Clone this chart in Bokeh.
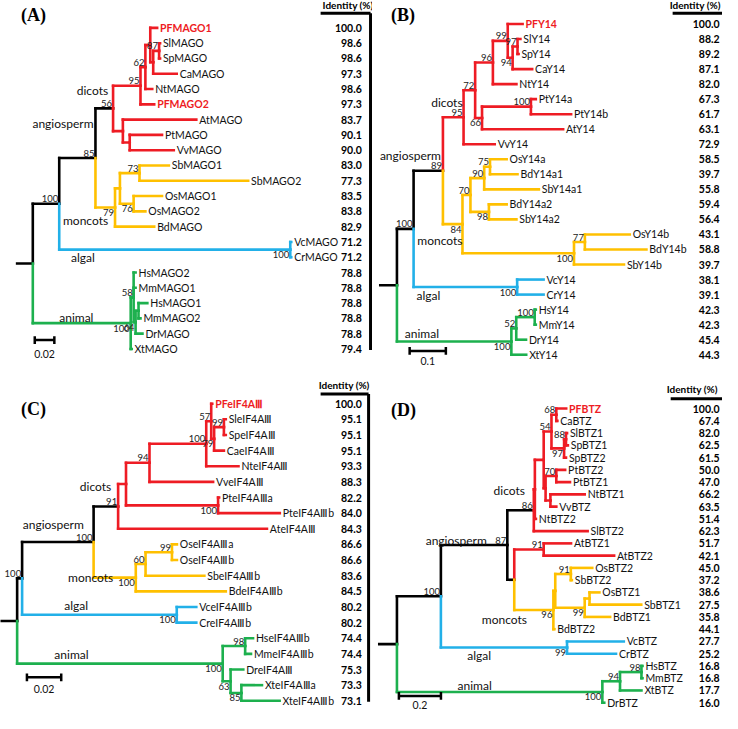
import re
from bokeh.plotting import figure
from bokeh.layouts import gridplot
from bokeh.models import Range1d, ColumnDataSource
from bokeh.core.properties import value
from bokeh.embed import file_html
from bokeh.resources import INLINE

# ---------------- data (Newick trees with bootstrap@tag labels, identities) -------------
TREE_A = ("(((((((PFMAGO1:0.007,((SlMAGO:0.001,SpMAGO:0.001)87:0.006,CaMAGO:0.024):0.003):0.005,"
          "NtMAGO:0.007)62:0.005,PFMAGO2:0.014)95:0.028,(AtMAGO:0.075,(PtMAGO:0.033,VvMAGO:0.045):0.007):0.010)56@dicots:0.018,"
          "(((SbMAGO1:0.030,SbMAGO2:0.111)73:0.020,(OsMAGO1:0.029,OsMAGO2:0.012)76@os:0.014):0.005,BdMAGO:0.040)79@moncots:0.020)85@angio:0.037,"
          "(VcMAGO:0.001,CrMAGO:0.001)100@algal:0.236)100:0.027,"
          "((HsMAGO2:0.002,MmMAGO1:0.002,((HsMAGO1:0.009,MmMAGO2:0.002):0.003,DrMAGO:0.007)64@n64:0.002)58:0.003,XtMAGO:0.001)100@animal:0.100):0.016;")
IDENT_A = [100.0, 98.6, 98.6, 97.3, 98.6, 97.3, 83.7, 90.1, 90.0, 83.0, 77.3, 83.5, 83.8, 82.9,
           71.2, 71.2, 78.8, 78.8, 78.8, 78.8, 78.8, 79.4]
SCALE_A = 0.02

TREE_B = ("(((((((PFY14:0.041,((SlY14:0.008,SpY14:0.003)97:0.0135,CaY14:0.054)94@n94:0.0135)99:0.041,NtY14:0.065)96:0.049,"
          "((PtY14a:0.0135,PtY14b:0.111)100:0.135,AtY14:0.224)66@n66:0.019)72:0.032,VvY14:0.086)95@dicots:0.057,"
          "((((OsY14a:0.046,BdY14a1:0.076)75:0.016,SbY14a1:0.151)90:0.038,(BdY14a2:0.049,SbY14a2:0.076)98@n98:0.051)70:0.022,"
          "((OsY14b:0.124,BdY14b:0.170)77:0.030,SbY14b:0.138)100@n100b:0.308)84@moncots:0.054)89@angio:0.081,"
          "(VcY14:0.073,CrY14:0.073)100@algal:0.286)100:0.046,"
          "(((HsY14:0.003,MmY14:0.003)100:0.051,DrY14:0.027)52:0.0135,XtY14:0.041)100@animal:0.316):0.046;")
IDENT_B = [100.0, 88.2, 89.2, 87.1, 82.0, 67.3, 61.7, 63.1, 72.9, 58.5, 39.7, 55.8, 59.4, 56.4,
           43.1, 58.8, 39.7, 38.1, 39.1, 42.3, 42.3, 45.4, 44.3]
SCALE_B = 0.1

TREE_C = ("((((((((PFeIF4AⅢ:0.0006,((SleIF4AⅢ:0.0011,SpeIF4AⅢ:0.0011)99:0.0057,CaeIF4AⅢ:0.0057)79@n79:0.0017)57:0.0029,"
          "NteIF4AⅢ:0.0188)100:0.0331,VveIF4AⅢ:0.0371)94:0.0137,(PteIF4AⅢa:0.0006,PteIF4AⅢb:0.0360)100@npt:0.0537):0.0046,"
          "AteIF4AⅢ:0.0868)91@dicots:0.0143,"
          "(((OseIF4AⅢa:0.0029,OseIF4AⅢb:0.0029)99:0.0154,SbeIF4AⅢb:0.0343)60:0.0057,BdeIF4AⅢb:0.0525)100@moncots:0.0246)100@angio:0.0417,"
          "(VceIF4AⅢb:0.0114,CreIF4AⅢb:0.0114)100@algal:0.0902)100:0.0029,"
          "((HseIF4AⅢb:0.0046,MmeIF4AⅢb:0.0034)98:0.0131,(DreIF4AⅢ:0.0074,(XteIF4AⅢa:0.0120,XteIF4AⅢb:0.0223)85@n85:0.0063)63@n63:0.0046)100@animal:0.1199):0.0097;")
IDENT_C = [100.0, 95.1, 95.1, 95.1, 93.3, 88.3, 82.2, 84.0, 84.3, 86.6, 86.6, 83.6, 84.5,
           80.2, 80.2, 74.4, 74.4, 75.3, 73.3, 73.1]
SCALE_C = 0.02

TREE_D = ("((((((((PFBTZ:0.047,CaBTZ:0.005)68:0.023,((SlBTZ1:0.005,SpBTZ1:0.009)88:0.009,SpBTZ2:0.009)97@n97:0.060)54:0.037,"
          "((PtBTZ2:0.042,PtBTZ1:0.065)70:0.051,(NtBTZ1:0.163,VvBTZ:0.028):0.023):0.009):0.042,NtBTZ2:0.005):0.005,SlBTZ2:0.256)86@dicots:0.126,"
          "((AtBTZ1:0.130,AtBTZ2:0.335)91@at:0.140,(((OsBTZ2:0.102,SbBTZ2:0.005)91:0.074,((OsBTZ1:0.047,SbBTZ1:0.246):0.023,BdBTZ1:0.121)99@n99:0.140):0.009,"
          "BdBTZ2:0.005)96@moncots:0.186):0.033)87@angio:0.316,"
          "(VcBTZ:0.270,CrBTZ:0.233)99@algal:0.600)100:0.209,"
          "(((HsBTZ:0.005,MmBTZ:0.005)98:0.102,XtBTZ:0.102)94:0.084,DrBTZ:0.009)100@animal:0.977):0.084;")
IDENT_D = [100.0, 67.4, 82.0, 62.5, 61.5, 50.0, 47.0, 66.2, 63.5, 51.4, 62.3, 51.7, 42.1, 45.0,
           37.2, 38.6, 27.5, 35.8, 44.1, 27.7, 25.2, 16.8, 16.8, 17.7, 16.0]
SCALE_D = 0.2

PANELS = ["(A)", "(B)", "(C)", "(D)"]
HEADER = "Identity (%)"

# ---------------- style ----------------
RED = "#ee1c24"; YEL = "#ffc000"; BLU = "#22b0e8"; GRN = "#1db04e"; BLK = "#000000"
SANS = "Lato"
SERIF = "Liberation Serif"


def parse_newick(s):
    tokens = re.findall(r"[(),;]|[^(),;]+", s)
    pos = 0

    def node():
        nonlocal pos
        n = {"children": [], "label": "", "len": 0.0}
        if tokens[pos] == "(":
            pos += 1
            while True:
                n["children"].append(node())
                if tokens[pos] == ",":
                    pos += 1
                    continue
                if tokens[pos] == ")":
                    pos += 1
                    break
        if pos < len(tokens) and tokens[pos] not in ("(", ")", ",", ";"):
            lab = tokens[pos]
            pos += 1
            name, _, bl = lab.partition(":")
            n["label"] = name
            n["len"] = float(bl) if bl else 0.0
        return n

    return node()


def layout_tree(root):
    nodes, leaves = [], []

    def walk(n, x, parent):
        n["x"] = x
        n["parent"] = parent
        nodes.append(n)
        if n["children"]:
            for c in n["children"]:
                walk(c, x + c["len"], n)
            n["y"] = (n["children"][0]["y"] + n["children"][-1]["y"]) / 2.0
        else:
            n["y"] = float(len(leaves))
            leaves.append(n)

    walk(root, 0.0, None)
    return nodes, leaves


def assign_colors(root, sub, stem_override):
    def walk(n, inherited):
        if n["children"]:
            boot, _, tag = n["label"].partition("@")
        else:
            boot, tag = "", ""
        n["boot"] = boot
        n["tag"] = tag
        n["color"] = stem_override.get(tag, sub.get(tag, inherited))
        for c in n["children"]:
            walk(c, sub.get(tag, inherited))
    walk(root, BLK)


def make_panel(cfg):
    root = parse_newick(cfg["tree"])
    nodes, leaves = layout_tree(root)
    assert len(leaves) == len(cfg["ident"])
    assign_colors(root, cfg["sub"], cfg["override"])
    u, rx0, y0, dy = cfg["u"], cfg["root_x"], cfg["y0"], cfg["dy"]
    X = lambda r: (r - rx0) * u
    Y = lambda r: (r - y0) / dy
    hx = lambda d: d * u
    vy = lambda d: d / dy
    bx0, bx1, by0, by1 = cfg["bounds"]
    W, H = cfg["size"]
    p = figure(width=W, height=H, x_range=Range1d(X(bx0), X(bx1)), y_range=Range1d(Y(by1), Y(by0)),
               x_axis_type=None, y_axis_type=None, toolbar_location=None, output_backend="svg",
               min_border=0, outline_line_color=None, background_fill_color="white",
               border_fill_color="white")
    p.xgrid.visible = False
    p.ygrid.visible = False

    # branches
    seg = {"x0": [], "y0": [], "x1": [], "y1": [], "c": []}

    def add(a, b, c, d, col):
        seg["x0"].append(a); seg["y0"].append(b); seg["x1"].append(c); seg["y1"].append(d); seg["c"].append(col)

    for n in nodes:
        par = n["parent"]
        if par is None:
            add(-n["len"], n["y"], 0.0, n["y"], BLK)
        else:
            add(par["x"], n["y"], n["x"], n["y"], n["color"])
            add(par["x"], par["y"], par["x"], n["y"], n["color"])
    order = sorted(range(len(seg["c"])), key=lambda i: seg["c"][i] != BLK)
    seg = {k: [v[i] for i in order] for k, v in seg.items()}
    p.segment(x0="x0", y0="y0", x1="x1", y1="y1", color="c", line_width=2.6, line_cap="square",
              source=ColumnDataSource(seg))

    def text(xs, ys, ts, size, align, baseline, color=BLK, style="normal", font=SANS):
        src = ColumnDataSource(dict(x=xs, y=ys, t=ts, c=color if isinstance(color, list) else [color] * len(xs),
                                    s=style if isinstance(style, list) else [style] * len(xs)))
        p.text(x="x", y="y", text="t", text_color="c", text_font_style="s", text_font=value(font),
               text_font_size=size, text_align=align, text_baseline=baseline, source=src)

    # leaf labels
    names = [l["label"] for l in leaves]
    text([l["x"] + hx(3) for l in leaves], [l["y"] for l in leaves], names, "10.5px", "left", "middle",
         color=[RED if nm.startswith("PF") else "#111111" for nm in names],
         style=["bold" if nm.startswith("PF") else "normal" for nm in names])

    # bootstrap values
    up = [n for n in nodes if n["boot"] and n["tag"] not in cfg["below"]]
    dn = [n for n in nodes if n["boot"] and n["tag"] in cfg["below"]]
    text([n["x"] - hx(1) for n in up], [n["y"] - vy(1.5) for n in up], [n["boot"] for n in up],
         "9.5px", "right", "bottom", color="#222222")
    text([n["x"] - hx(1) for n in dn], [n["y"] + vy(1.5) for n in dn], [n["boot"] for n in dn],
         "9.5px", "right", "top", color="#222222")

    # clade names
    by_tag = {n["tag"]: n for n in nodes if n["tag"]}
    for tag, (label, anchor, dx, ddy, align) in cfg["clades"].items():
        n = by_tag[tag]
        bx = n["x"] if anchor == "node" else n["parent"]["x"]
        text([bx + hx(dx)], [n["y"] + vy(ddy)], [label], "12px", align, "middle", color="#111111")

    # identity column
    text([X(cfg["id_right"])] * len(leaves), [l["y"] for l in leaves],
         ["%.1f" % v for v in cfg["ident"]], "10.5px", "right", "middle", style="bold")
    text([X(cfg["hdr_x"])], [Y(cfg["hdr_y"])], [HEADER], "10px", "left", "middle", style="bold")
    bxa, bxb, byy, bvy = cfg["bracket"]
    p.segment(x0=[X(bxa)], y0=[Y(byy)], x1=[X(bxb)], y1=[Y(byy)], color=BLK, line_width=3)
    if bvy is not None:
        p.segment(x0=[X(bxb)], y0=[Y(byy)], x1=[X(bxb)], y1=[Y(bvy)], color=BLK, line_width=3)

    # panel letter
    text([X(cfg["lab"][0])], [Y(cfg["lab"][1])], [cfg["name"]], "18px", "left", "middle",
         style="bold", font=SERIF)

    # scale bar
    sx, sy, sly = cfg["sbar"]
    L = cfg["scale"]
    p.segment(x0=[X(sx), X(sx), X(sx) + L], y0=[Y(sy), Y(sy) - vy(4), Y(sy) - vy(4)],
              x1=[X(sx) + L, X(sx), X(sx) + L], y1=[Y(sy), Y(sy) + vy(4), Y(sy) + vy(4)],
              color=BLK, line_width=2.5)
    text([X(sx) + L / 2], [Y(sly)], [("%g" % L)], "10.5px", "center", "middle", color="#111111")
    return p


SUB = {"dicots": RED, "moncots": YEL, "algal": BLU, "animal": GRN}

cfgA = dict(name=PANELS[0], tree=TREE_A, ident=IDENT_A, scale=SCALE_A, u=0.001, root_x=33, y0=28, dy=15.62,
            bounds=(0, 380, 0, 376), size=(372, 368), id_right=369, hdr_x=329, hdr_y=5,
            bracket=(327, 378, 13, 357), lab=(21, 15), sbar=(35, 347, 361),
            sub=SUB, override={"dicots": BLK}, below={"os", "moncots", "algal", "animal", "n64"},
            clades={"dicots": ("dicots", "node", -5, -18, "right"),
                    "angio": ("angiosperm", "node", -2, -35, "right"),
                    "moncots": ("moncots", "node", -7, 13, "right"),
                    "algal": ("algal", "parent", 12, 8, "left"),
                    "animal": ("animal", "parent", 27, -6, "left")})
cfgB = dict(name=PANELS[1], tree=TREE_B, ident=IDENT_B, scale=SCALE_B, u=0.0027, root_x=405, y0=24, dy=15.36,
            bounds=(380, 738, 0, 376), size=(350, 368), id_right=735, hdr_x=684, hdr_y=5,
            bracket=(687, 740, 13, None), lab=(399, 15), sbar=(418, 358, 368),
            sub=SUB, override={}, below={"n94", "n66", "n98", "moncots", "n100b", "algal", "animal"},
            clades={"dicots": ("dicots", "node", -1, -15, "right"),
                    "angio": ("angiosperm", "node", -2, -16, "right"),
                    "moncots": ("moncots", "node", 0, 17, "right"),
                    "algal": ("algal", "parent", 3, 9, "left"),
                    "animal": ("animal", "parent", 8, -8, "left")})
cfgC = dict(name=PANELS[2], tree=TREE_C, ident=IDENT_C, scale=SCALE_C, u=0.000571, root_x=17, y0=412, dy=16.0,
            bounds=(0, 380, 376, 729), size=(372, 345), id_right=369, hdr_x=325, hdr_y=393,
            bracket=(327, 376, 402, 717), lab=(21, 417), sbar=(27, 692, 704),
            sub=SUB, override={"dicots": BLK}, below={"n79", "npt", "moncots", "algal", "animal", "n63", "n85"},
            clades={"dicots": ("dicots", "node", -7, -20, "right"),
                    "angio": ("angiosperm", "node", -10, -18, "right"),
                    "moncots": ("moncots", "node", -23, 0, "right"),
                    "algal": ("algal", "parent", 43, -10, "left"),
                    "animal": ("animal", "parent", 38, -9, "left")})
cfgD = dict(name=PANELS[3], tree=TREE_D, ident=IDENT_D, scale=SCALE_D, u=0.00465, root_x=405, y0=417, dy=12.54,
            bounds=(380, 738, 376, 729), size=(350, 345), id_right=735, hdr_x=681, hdr_y=397,
            bracket=(685, 740, 407, None), lab=(399, 418), sbar=(407, 711, 720),
            sub=dict(SUB, at=RED), override={"dicots": BLK}, below={"n97", "n99", "moncots", "algal", "animal"},
            clades={"dicots": ("dicots", "node", -9, -20, "right"),
                    "angio": ("angiosperm", "node", -21, -5, "right"),
                    "moncots": ("moncots", "node", -27, 10, "right"),
                    "algal": ("algal", "parent", 27, 8, "left"),
                    "animal": ("animal", "parent", 62, -7, "left")})

figs = [make_panel(c) for c in (cfgA, cfgB, cfgC, cfgD)]
grid = gridplot([[figs[0], figs[1]], [figs[2], figs[3]]], toolbar_location=None)

with open("out.html", "w") as f:
    f.write(file_html(grid, INLINE))
